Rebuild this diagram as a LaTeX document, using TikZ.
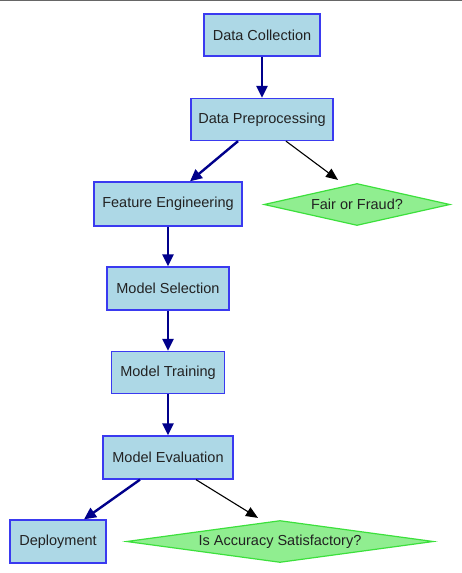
\documentclass[tikz,border=0pt]{standalone}
\usepackage{fontspec}
\setmainfont{Liberation Sans}
\usetikzlibrary{shapes.geometric,arrows.meta}
\definecolor{boxfill}{HTML}{ADD8E6}
\definecolor{boxline}{HTML}{3A3AF0}
\definecolor{dfill}{HTML}{90EE90}
\definecolor{dline}{HTML}{3CE03C}
\definecolor{txt}{HTML}{222222}
\definecolor{navyc}{HTML}{00008B}
\begin{document}
\begin{tikzpicture}[x=1pt,y=-1pt,
  proc/.style={rectangle,draw=boxline,fill=boxfill,line width=1.3pt,inner sep=0pt,font=\fontsize{14.5}{16}\selectfont,text=txt},
  dec/.style={diamond,aspect=4.4,draw=dline,fill=dfill,line width=1.2pt,inner sep=0pt,font=\fontsize{14.5}{16}\selectfont,text=txt},
  strong/.style={draw=navyc,line width=2.4pt,-{Triangle[length=12pt,width=11pt]}},
  weak/.style={draw=black,line width=1.1pt,-{Triangle[length=12pt,width=10pt]}}]
\useasboundingbox (0,0) rectangle (462,573);
\fill[white] (0,0) rectangle (462,573);
\draw[line width=1.5pt,gray!80!black] (0,0.5) -- (462,0.5);
\node[proc,minimum width=116pt,minimum height=42pt] (dc) at (262,35) {Data Collection};
\node[proc,minimum width=142pt,minimum height=42pt] (dp) at (262,119.5) {Data Preprocessing};
\node[proc,minimum width=148pt,minimum height=44pt] (fe) at (168,204) {Feature Engineering};
\node[dec,minimum width=186pt,minimum height=42pt] (ff) at (357,204.5) {Fair or Fraud?};
\node[proc,minimum width=122pt,minimum height=43pt] (ms) at (168,288.5) {Model Selection};
\node[proc,minimum width=113pt,minimum height=42pt] (mt) at (168,372.5) {Model Training};
\node[proc,minimum width=130pt,minimum height=43pt] (me) at (168,457.5) {Model Evaluation};
\node[proc,minimum width=96pt,minimum height=43pt] (dep) at (58,541.5) {Deployment};
\node[dec,aspect=7.3,minimum width=307pt,minimum height=42pt] (acc) at (280,541.5) {Is Accuracy Satisfactory?};
\coordinate (dpL) at ([xshift=-24pt]dp.south);
\coordinate (dpR) at ([xshift=24pt]dp.south);
\coordinate (feT) at ([xshift=22pt]fe.north);
\coordinate (ffT) at ([xshift=-19pt,yshift=3pt]ff.north);
\coordinate (meL) at ([xshift=-28pt]me.south);
\coordinate (meR) at ([xshift=28pt]me.south);
\coordinate (depT) at ([xshift=26pt]dep.north);
\coordinate (accT) at ([xshift=-22pt,yshift=2pt]acc.north);
\draw[strong] (dc) -- (dp);
\draw[strong] (dpL) -- (feT);
\draw[weak] (dpR) -- (ffT);
\draw[strong] (fe) -- (ms);
\draw[strong] (ms) -- (mt);
\draw[strong] (mt) -- (me);
\draw[strong] (meL) -- (depT);
\draw[weak] (meR) -- (accT);
\end{tikzpicture}
\end{document}
